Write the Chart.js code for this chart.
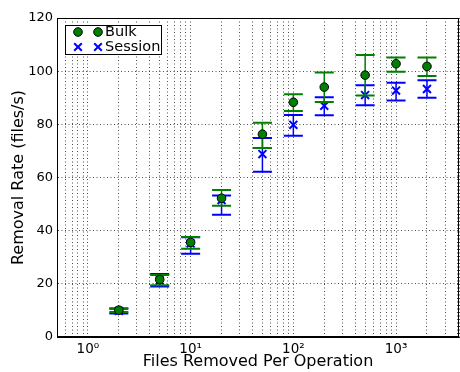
<!DOCTYPE html>
<html>
<head>
<meta charset="utf-8">
<script src="https://cdn.jsdelivr.net/npm/chart.js@4/dist/chart.umd.min.js"></script>
<style>
  html, body { margin: 0; padding: 0; background: #fff; }
  #wrap { width: 460px; height: 372px; }
</style>
</head>
<body>
<div id="wrap"><canvas id="rateChart" width="460" height="372"></canvas></div>
<script>
// files removed per operation (x) and measured removal rates (files/s)
const filesPerOp = [2, 5, 10, 20, 50, 100, 200, 500, 1000, 2000];
const bulkRate = [10.1, 21.6, 35.6, 52.2, 76.3, 88.3, 94.0, 98.5, 102.8, 101.8];
const bulkLow = [9.4, 19.5, 33.2, 49.4, 71.1, 85.0, 88.4, 90.8, 99.8, 98.2];
const bulkHigh = [10.8, 23.3, 37.6, 55.3, 80.6, 91.3, 99.5, 106.1, 105.1, 105.1];
const sessionRate = [9.8, 21.3, 35.2, 51.5, 68.8, 79.8, 87.0, 91.0, 92.7, 93.3];
const sessionLow = [8.8, 19.0, 31.3, 46.0, 62.2, 75.7, 83.4, 87.2, 89.0, 90.0];
const sessionHigh = [10.6, 23.7, 37.5, 53.2, 74.9, 83.5, 90.2, 94.7, 95.6, 96.6];
const seriesNames = ['Bulk', 'Session'];
const yTicks = [0, 20, 40, 60, 80, 100, 120];

const FONT = 'DejaVu Sans';
const GREEN = '#008000';
const BLUE = '#0000ff';
const sup = { '0': '\u2070', '1': '\u00b9', '2': '\u00b2', '3': '\u00b3' };

function toPoints(xs, ys) {
    return xs.map((x, i) => ({ x: x, y: ys[i] }));
}

const errorBars = [
    { low: bulkLow, high: bulkHigh, color: GREEN },
    { low: sessionLow, high: sessionHigh, color: BLUE }
];

// stretch the plot box to the right edge (chart.js keeps a few px spare there)
const plotBoxPlugin = {
    id: 'plotBox',
    afterLayout(chart) {
        const a = chart.chartArea;
        const x = chart.scales.x;
        a.right = 459;
        a.width = a.right - a.left;
        x.right = 459;
        x.width = x.right - x.left;
        x.configure();
    }
};

// error bars go under each dataset's markers, like matplotlib's errorbar
const errorBarPlugin = {
    id: 'errorBars',
    beforeDatasetDraw(chart, args) {
        const eb = errorBars[args.index];
        const ctx = chart.ctx;
        const xs = chart.scales.x, ys = chart.scales.y;
        ctx.save();
        ctx.strokeStyle = eb.color;
        filesPerOp.forEach((f, i) => {
            const px = xs.getPixelForValue(f);
            const top = ys.getPixelForValue(eb.high[i]);
            const bot = ys.getPixelForValue(eb.low[i]);
            ctx.lineWidth = 1.5;
            ctx.beginPath();
            ctx.moveTo(px, top);
            ctx.lineTo(px, bot);
            ctx.stroke();
            ctx.lineWidth = 2;
            ctx.beginPath();
            ctx.moveTo(px - 9.5, top); ctx.lineTo(px + 9.5, top);
            ctx.moveTo(px - 9.5, bot); ctx.lineTo(px + 9.5, bot);
            ctx.stroke();
        });
        ctx.restore();
    }
};

function drawCircle(ctx, x, y) {
    ctx.beginPath();
    ctx.arc(x, y, 4.3, 0, Math.PI * 2);
    ctx.fillStyle = GREEN;
    ctx.fill();
    ctx.lineWidth = 1;
    ctx.strokeStyle = '#000';
    ctx.stroke();
}

function drawX(ctx, x, y) {
    const r = 3.8;
    ctx.beginPath();
    ctx.moveTo(x - r, y - r); ctx.lineTo(x + r, y + r);
    ctx.moveTo(x - r, y + r); ctx.lineTo(x + r, y - r);
    ctx.lineWidth = 2;
    ctx.strokeStyle = BLUE;
    ctx.stroke();
}

// axes frame on all four sides + legend box in the top left corner
const framePlugin = {
    id: 'frameLegend',
    afterDraw(chart) {
        const ctx = chart.ctx;
        const a = chart.chartArea;
        ctx.save();
        ctx.strokeStyle = '#000';
        ctx.lineWidth = 1;
        ctx.strokeRect(Math.round(a.left) + 0.5, Math.round(a.top) + 0.5,
            Math.round(a.right - a.left) - 1, Math.round(a.bottom - a.top) - 1);

        const lx = a.left + 8, ly = a.top + 7;
        ctx.fillStyle = '#fff';
        ctx.fillRect(lx, ly, 97, 30);
        ctx.strokeRect(lx + 0.5, ly + 0.5, 96, 29);

        drawCircle(ctx, lx + 13, ly + 7);
        drawCircle(ctx, lx + 33, ly + 7);
        drawX(ctx, lx + 13, ly + 22);
        drawX(ctx, lx + 33, ly + 22);

        ctx.fillStyle = '#000';
        ctx.font = '14.5px "' + FONT + '"';
        ctx.textBaseline = 'middle';
        ctx.fillText(seriesNames[0], lx + 40, ly + 7.5);
        ctx.fillText(seriesNames[1], lx + 40, ly + 22.5);
        ctx.restore();
    }
};

const ctx = document.getElementById('rateChart').getContext('2d');
new Chart(ctx, {
    type: 'scatter',
    data: {
        datasets: [
            {
                label: seriesNames[0],
                data: toPoints(filesPerOp, bulkRate),
                pointStyle: 'circle',
                pointRadius: 4.3,
                backgroundColor: GREEN,
                borderColor: '#000',
                borderWidth: 1
            },
            {
                label: seriesNames[1],
                data: toPoints(filesPerOp, sessionRate),
                pointStyle: 'crossRot',
                pointRadius: 5.6,
                backgroundColor: BLUE,
                borderColor: BLUE,
                borderWidth: 2
            }
        ]
    },
    options: {
        responsive: false,
        animation: false,
        layout: { padding: { top: 18, right: 1, left: 0, bottom: 0 } },
        plugins: {
            legend: { display: false },
            tooltip: { enabled: false }
        },
        scales: {
            x: {
                type: 'logarithmic',
                min: 0.5,
                max: 4100,
                afterBuildTicks(scale) {
                    // keep 1..9 x 10^n grid lines only (drop the 1.5 ones)
                    scale.ticks = scale.ticks.filter(t => {
                        const m = t.value / Math.pow(10, Math.floor(Math.log10(t.value) + 1e-9));
                        return Math.abs(m - Math.round(m)) < 1e-6 || t.value === 4100;
                    });
                },
                afterFit(scale) {
                    scale.height = 35;
                    scale.paddingLeft = 0;
                    scale.paddingRight = 0;
                },
                ticks: {
                    autoSkip: false,
                    maxRotation: 0,
                    padding: 4,
                    color: '#000',
                    font: { family: FONT, size: 13.5 },
                    callback(value) {
                        const l = Math.log10(value);
                        const r = Math.round(l);
                        if (Math.abs(l - r) < 1e-9 && r >= 0 && r <= 3) return '10' + sup[String(r)];
                        return '';
                    }
                },
                grid: { color: '#000', lineWidth: 0.7, drawTicks: false },
                border: { display: true, color: '#000', width: 1, dash: [1, 2.5] },
                title: {
                    display: true,
                    text: 'Files Removed Per Operation',
                    color: '#000',
                    font: { family: FONT, size: 16, lineHeight: 1.2 },
                    padding: { top: 0, bottom: 1 }
                }
            },
            y: {
                min: 0,
                max: 120,
                afterBuildTicks(scale) {
                    scale.ticks = yTicks.map(v => ({ value: v }));
                },
                afterFit(scale) {
                    scale.width = 57;
                    scale.paddingTop = 0;
                    scale.paddingBottom = 0;
                },
                ticks: {
                    padding: 4,
                    color: '#000',
                    font: { family: FONT, size: 13 }
                },
                grid: { color: '#000', lineWidth: 0.7, drawTicks: false },
                border: { display: true, color: '#000', width: 1, dash: [1, 2.5] },
                title: {
                    display: true,
                    text: 'Removal Rate (files/s)',
                    color: '#000',
                    font: { family: FONT, size: 16, lineHeight: 1.2 },
                    padding: { top: 9, bottom: 0 }
                }
            }
        }
    },
    plugins: [plotBoxPlugin, errorBarPlugin, framePlugin]
});
</script>
</body>
</html>
